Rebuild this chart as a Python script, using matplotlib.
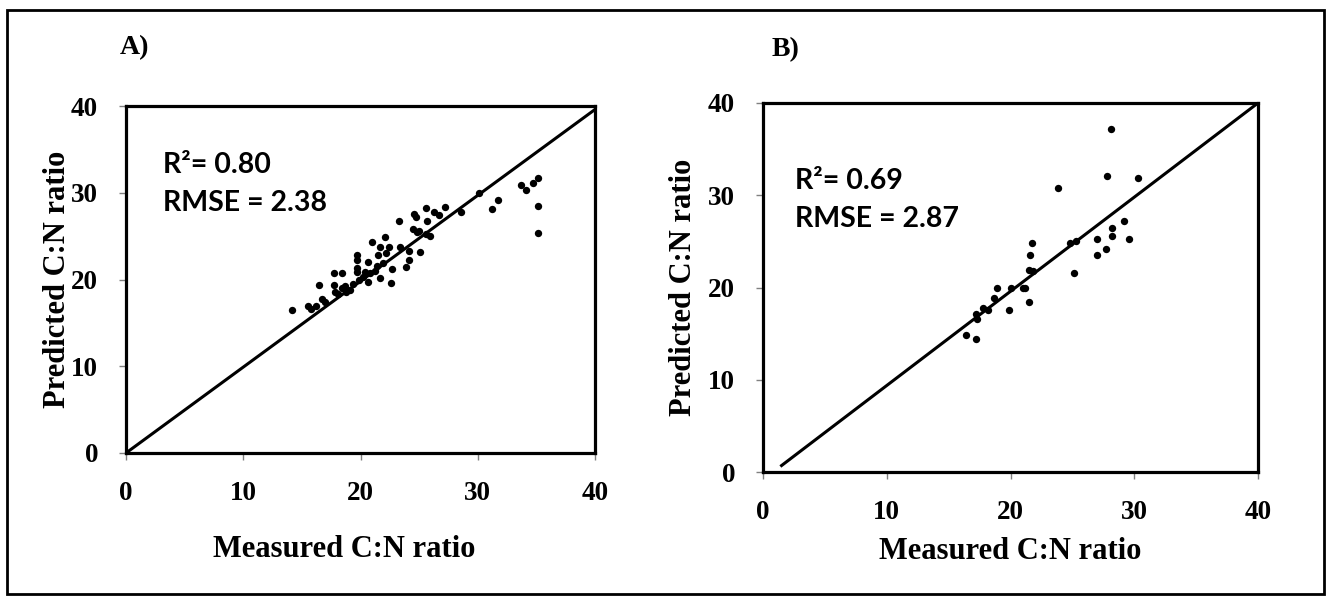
import matplotlib.pyplot as plt
from matplotlib.patches import Rectangle

# panel A: measured vs predicted C:N ratio
meas_a = [14.2, 15.5, 15.8, 16.2, 16.5, 16.7, 17.0, 17.7, 18.4, 17.7, 17.8, 18.1, 18.4, 18.8,
          18.7, 19.1, 19.4, 19.7, 19.7, 19.7, 19.7, 20.2, 20.6, 20.4, 19.9, 20.6, 21.0, 22.1,
          21.7, 22.4, 21.5, 22.2, 21.9, 21.4, 20.8, 21.2, 21.7, 22.7, 22.6, 23.4, 24.1, 23.9,
          24.1, 25.1, 24.8, 25.6,
          23.3, 24.6, 24.7, 24.5, 25.0, 25.6, 26.3, 26.7, 25.7, 25.9, 27.2, 28.6, 30.1, 31.2,
          31.7, 33.7, 34.1, 34.7, 35.1, 35.1, 35.1]
pred_a = [16.5, 16.9, 16.6, 17.0, 19.4, 17.8, 17.4, 20.7, 20.8, 19.4, 18.6, 18.3, 19.0, 18.6,
          19.2, 18.8, 19.5, 22.8, 22.2, 20.9, 21.3, 20.3, 22.0, 20.9, 19.9, 19.7, 24.3, 24.9,
          23.8, 23.8, 22.8, 23.0, 21.9, 21.5, 20.7, 21.0, 20.2, 21.2, 19.6, 23.7, 23.3, 21.4,
          22.3, 23.2, 25.5, 25.3,
          26.8, 27.6, 27.2, 25.8, 25.6, 28.2, 27.8, 27.4, 26.8, 25.0, 28.3, 27.8, 30.0, 28.1,
          29.2, 30.9, 30.3, 31.1, 31.7, 28.5, 25.4]

# panel B
meas_b = [28.1, 27.8, 30.3, 23.8, 29.2, 28.2, 28.2, 27.0, 29.6, 24.8, 25.3, 27.7, 27.0, 21.7,
          21.6, 21.5, 21.8, 25.1, 21.0, 21.2, 20.0, 18.9, 18.7, 19.9, 21.5, 18.2, 17.8, 17.2,
          17.3, 16.4, 17.2]
pred_b = [37.2, 32.1, 31.9, 30.8, 27.2, 26.4, 25.6, 25.3, 25.3, 24.8, 25.0, 24.2, 23.5, 24.8,
          23.5, 21.9, 21.8, 21.6, 19.9, 19.9, 19.9, 19.9, 18.9, 17.6, 18.4, 17.6, 17.8, 17.1,
          16.6, 14.8, 14.4]

# 1:1 reference lines
line_a_x = [0, 40]
line_a_y = [0, 39.6]
line_b_x = [1.5, 40]
line_b_y = [0.7, 40]

ticks = [0, 10, 20, 30, 40]
stats_a = ['R\u00b2= 0.80', 'RMSE = 2.38']
stats_b = ['R\u00b2= 0.69', 'RMSE = 2.87']

W, H = 1331, 599
fig = plt.figure(figsize=(W / 100, H / 100), dpi=100)

serif = 'Liberation Serif'
sans = 'Lato'


def px_axes(l, t, r, b):
    return fig.add_axes([l / W, 1 - b / H, (r - l) / W, (b - t) / H])


def style(ax, xlab_y, ylab_x, xlab_x=0.5):
    ax.set_xlim(0, 40)
    ax.set_ylim(0, 40)
    ax.set_xticks(ticks)
    ax.set_yticks(ticks)
    for s in ax.spines.values():
        s.set_linewidth(2.3)
        s.set_color('black')
    ax.tick_params(direction='out', length=5, width=1, color='#808080', pad=15)
    for lab in ax.get_xticklabels() + ax.get_yticklabels():
        lab.set_fontfamily(serif)
        lab.set_fontweight('bold')
        lab.set_fontsize(19.5)
    ax.set_xlabel('Measured C:N ratio', family=serif, weight='bold', fontsize=22)
    ax.set_ylabel('Predicted C:N ratio', family=serif, weight='bold', fontsize=22)
    ax.xaxis.set_label_coords(xlab_x, xlab_y)
    ax.yaxis.set_label_coords(ylab_x, 0.5)


ax_a = px_axes(126, 106, 595, 453)
ax_a.plot(line_a_x, line_a_y, color='black', lw=2.2)
ax_a.scatter(meas_a, pred_a, s=28, color='black', zorder=3, linewidths=0)
style(ax_a, -0.235, -0.115, 0.465)
ax_a.text(0.079, 0.83, stats_a[0], transform=ax_a.transAxes, family=sans, weight='bold',
          fontsize=20.5, va='center')
ax_a.text(0.079, 0.72, stats_a[1], transform=ax_a.transAxes, family=sans, weight='bold',
          fontsize=20.5, va='center')

ax_b = px_axes(763, 103, 1258, 472)
ax_b.plot(line_b_x, line_b_y, color='black', lw=2.2)
ax_b.scatter(meas_b, pred_b, s=28, color='black', zorder=3, linewidths=0)
style(ax_b, -0.175, -0.131)
ax_b.text(0.065, 0.789, stats_b[0], transform=ax_b.transAxes, family=sans, weight='bold',
          fontsize=20.5, va='center')
ax_b.text(0.065, 0.686, stats_b[1], transform=ax_b.transAxes, family=sans, weight='bold',
          fontsize=20.5, va='center')

fig.text(120 / W, 1 - 48 / H, 'A)', family=serif, weight='bold', fontsize=20, va='center')
fig.text(772 / W, 1 - 50 / H, 'B)', family=serif, weight='bold', fontsize=20, va='center')

# outer frame
fig.add_artist(Rectangle((7 / W, 5 / H), 1317 / W, 584 / H, transform=fig.transFigure,
                         fill=False, lw=2, edgecolor='black'))

fig.savefig('out.png', dpi=100)
